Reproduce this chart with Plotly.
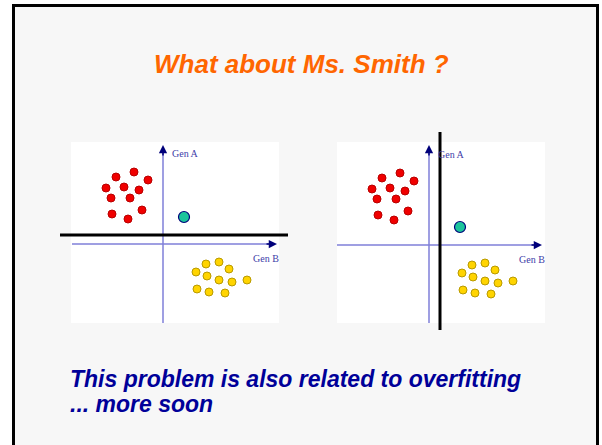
import plotly.graph_objects as go

W, H = 602, 445

# Samples, Gen B on x, Gen A on y (same samples in both panels)
red_gen_b = [-29, -47, -15, -57, -39, -24, -52, -33, -21, -51, -35]
red_gen_a = [72, 67, 64, 56, 57, 54, 46, 46, 34, 30, 25]
yellow_gen_b = [43, 56, 33, 66, 44, 56, 69, 84, 34, 46, 62]
yellow_gen_a = [-20, -18, -28, -25, -32, -36, -38, -36, -45, -48, -49]

# Ms. Smith, as drawn in the left / right panel
smith_gen_b = [21, 31]
smith_gen_a = [27, 18]

# decision boundaries: left panel splits on Gen A, right panel on Gen B
boundary_left_gen_a = 9
boundary_right_gen_b = 11


def px_x(p):
    return p / W


def px_y(p):
    return 1 - p / H


# pixel box of each subplot and where its origin sits
panels = [
    dict(xa='x', ya='y', box=(55, 295, 128, 335), origin=(163, 244),
         white=(71, 279, 142, 323), haxis=(72, 277), vaxis=(323, 145)),
    dict(xa='x2', ya='y2', box=(325, 555, 128, 335), origin=(429, 245),
         white=(337, 545, 142, 323), haxis=(337, 542), vaxis=(323, 145)),
]

fig = go.Figure()
shapes = [dict(type='rect', xref='paper', yref='paper',
               x0=px_x(13.5), x1=px_x(597.5), y0=-0.05, y1=px_y(5.5),
               line=dict(color='black', width=3), fillcolor='#f7f7f7',
               layer='below')]
annotations = []
axis_blue = '#7f7fd8'
arrow_blue = '#00007a'
label_blue = '#3d3da8'

for i, p in enumerate(panels):
    ox, oy = p['origin']
    x0, x1, y0, y1 = p['box']
    fig.layout[('xaxis' if i == 0 else 'xaxis2')] = dict(
        domain=[px_x(x0), px_x(x1)], range=[x0 - ox, x1 - ox],
        visible=False, fixedrange=True, anchor=p['ya'])
    fig.layout[('yaxis' if i == 0 else 'yaxis2')] = dict(
        domain=[px_y(y1), px_y(y0)], range=[oy - y1, oy - y0],
        visible=False, fixedrange=True, anchor=p['xa'])

    wx0, wx1, wy0, wy1 = p['white']
    shapes.append(dict(type='rect', xref=p['xa'], yref=p['ya'],
                       x0=wx0 - ox, x1=wx1 - ox, y0=oy - wy1, y1=oy - wy0,
                       line=dict(width=0), fillcolor='white', layer='below'))

    hx0, hx1 = p['haxis']
    vy0, vy1 = p['vaxis']
    # axes
    fig.add_trace(go.Scatter(x=[hx0 - ox, hx1 - ox - 6], y=[0, 0], mode='lines',
                             line=dict(color=axis_blue, width=1.5),
                             xaxis=p['xa'], yaxis=p['ya'], hoverinfo='skip'))
    fig.add_trace(go.Scatter(x=[0, 0], y=[oy - vy0, oy - vy1 - 6], mode='lines',
                             line=dict(color=axis_blue, width=1.5),
                             xaxis=p['xa'], yaxis=p['ya'], hoverinfo='skip'))
    annotations.append(dict(x=hx1 - ox, y=0, ax=hx1 - ox - 12, ay=0,
                            xref=p['xa'], yref=p['ya'], axref=p['xa'], ayref=p['ya'],
                            showarrow=True, arrowhead=2, arrowsize=1.1,
                            arrowwidth=1.5, arrowcolor=arrow_blue, text=''))
    annotations.append(dict(x=0, y=oy - vy1, ax=0, ay=oy - vy1 - 12,
                            xref=p['xa'], yref=p['ya'], axref=p['xa'], ayref=p['ya'],
                            showarrow=True, arrowhead=2, arrowsize=1.1,
                            arrowwidth=1.5, arrowcolor=arrow_blue, text=''))
    annotations.append(dict(x=22, y=91, xref=p['xa'], yref=p['ya'], text='Gen A',
                            showarrow=False,
                            font=dict(family='Liberation Serif', size=10, color=label_blue)))
    annotations.append(dict(x=103, y=-14, xref=p['xa'], yref=p['ya'], text='Gen B',
                            showarrow=False,
                            font=dict(family='Liberation Serif', size=10, color=label_blue)))

    # decision boundary
    if i == 0:
        fig.add_trace(go.Scatter(x=[60 - ox, 288 - ox],
                                 y=[boundary_left_gen_a, boundary_left_gen_a],
                                 mode='lines', line=dict(color='black', width=3),
                                 xaxis=p['xa'], yaxis=p['ya'], hoverinfo='skip'))
    else:
        fig.add_trace(go.Scatter(x=[boundary_right_gen_b, boundary_right_gen_b],
                                 y=[oy - 330, oy - 132],
                                 mode='lines', line=dict(color='black', width=3),
                                 xaxis=p['xa'], yaxis=p['ya'], hoverinfo='skip'))

    fig.add_trace(go.Scatter(x=red_gen_b, y=red_gen_a, mode='markers',
                             marker=dict(size=8, color='#f00000',
                                         line=dict(color='#b80000', width=1)),
                             xaxis=p['xa'], yaxis=p['ya']))
    fig.add_trace(go.Scatter(x=yellow_gen_b, y=yellow_gen_a, mode='markers',
                             marker=dict(size=8, color='#ffd400',
                                         line=dict(color='#b89a00', width=1)),
                             xaxis=p['xa'], yaxis=p['ya']))
    fig.add_trace(go.Scatter(x=[smith_gen_b[i]], y=[smith_gen_a[i]], mode='markers',
                             marker=dict(size=11, color='#1cc49c',
                                         line=dict(color='#00007a', width=1.2)),
                             xaxis=p['xa'], yaxis=p['ya']))

annotations.append(dict(x=px_x(301), y=px_y(64), xref='paper', yref='paper',
                        text='<b><i>What about Ms. Smith ?</i></b>', showarrow=False,
                        xanchor='center', yanchor='middle',
                        font=dict(family='Liberation Sans', size=26, color='#ff6600')))
annotations.append(dict(x=px_x(68), y=px_y(379), xref='paper', yref='paper',
                        text='<b><i>This problem is also related to overfitting</i></b>',
                        showarrow=False, xanchor='left', yanchor='middle',
                        font=dict(family='Liberation Sans', size=23, color='#000099')))
annotations.append(dict(x=px_x(68), y=px_y(404), xref='paper', yref='paper',
                        text='<b><i>... more soon</i></b>',
                        showarrow=False, xanchor='left', yanchor='middle',
                        font=dict(family='Liberation Sans', size=23, color='#000099')))

fig.update_layout(
    width=W, height=H,
    margin=dict(l=0, r=0, t=0, b=0),
    paper_bgcolor='white',
    plot_bgcolor='rgba(0,0,0,0)',
    showlegend=False,
    shapes=shapes,
    annotations=annotations,
)

# drop the default page margin so the slide sits at the window corner
fig.write_html("out.html", config={'displayModeBar': False},
               post_script="document.body.style.margin='0';")
